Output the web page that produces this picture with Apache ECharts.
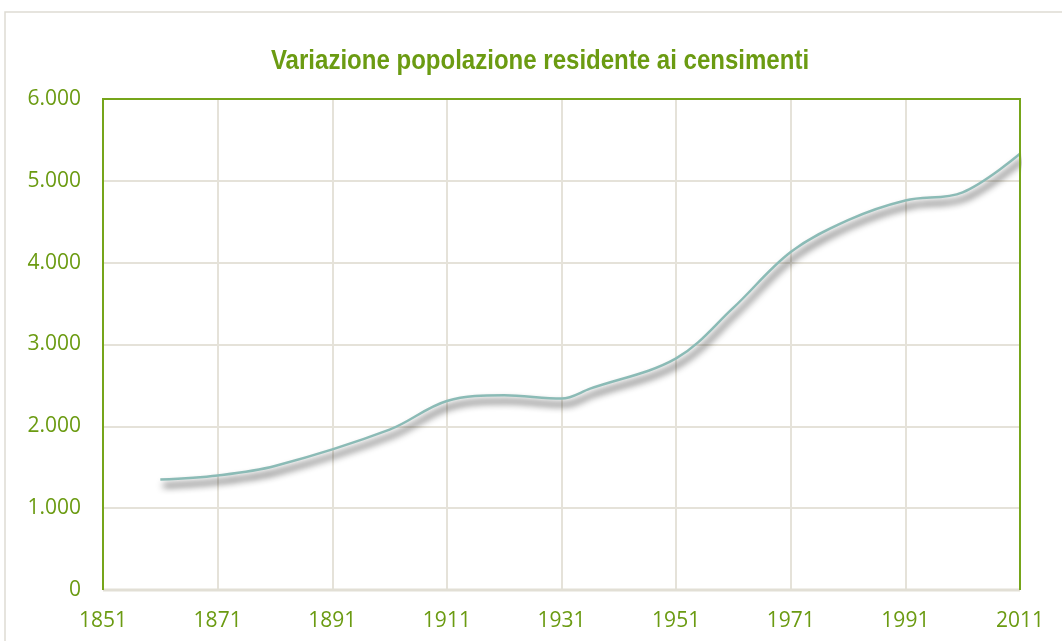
<!DOCTYPE html>
<html>
<head>
<meta charset="utf-8">
<script src="https://cdn.jsdelivr.net/npm/echarts@6/dist/echarts.min.js"></script>
<style>
html,body{margin:0;padding:0;background:#fff;}
#chart{width:1062px;height:641px;}
</style>
</head>
<body>
<div id="chart"></div>
<script>
const chartTitle = 'Variazione popolazione residente ai censimenti';
const years = [1861, 1871, 1881, 1901, 1911, 1921, 1931, 1936, 1951, 1961, 1971, 1981, 1991, 2001, 2011];
const population = [1350, 1400, 1515, 1960, 2310, 2380, 2340, 2460, 2830, 3450, 4130, 4520, 4760, 4860, 5330];
const xTicks = [1851, 1871, 1891, 1911, 1931, 1951, 1971, 1991, 2011];
const yTicks = [0, 1000, 2000, 3000, 4000, 5000, 6000];

const green = '#6b9b12';
const borderGreen = '#76a51a';
const gridColor = '#e5e2d9';

function fmtThousands(v) {
  return String(v).replace(/\B(?=(\d{3})+(?!\d))/g, '.');
}

const xMin = xTicks[0], xMax = xTicks[xTicks.length - 1];
const yMin = yTicks[0], yMax = yTicks[yTicks.length - 1];

const chart = echarts.init(document.getElementById('chart'), null, {renderer: 'canvas'});
chart.setOption({
  animation: false,
  backgroundColor: '#ffffff',
  graphic: [{
    id: 'outer',
    type: 'rect',
    shape: {x: 5, y: 12, width: 1200, height: 800},
    style: {fill: 'none', stroke: '#dedbd3', lineWidth: 1.5},
    z: -1
  }, {
    id: 'title',
    type: 'text',
    x: 540,
    y: 62,
    scaleX: 0.89,
    style: {
      text: chartTitle,
      x: 0, y: 0,
      align: 'center',
      verticalAlign: 'middle',
      fill: green,
      font: 'bold 27px "Liberation Sans", Arial, sans-serif'
    }
  }],
  grid: {
    left: 103, right: 42, top: 99, bottom: 51,
    show: false
  },
  xAxis: {
    type: 'value',
    min: xMin,
    max: xMax,
    interval: 20,
    axisLine: {show: false},
    axisTick: {show: false},
    splitLine: {show: true, lineStyle: {color: gridColor, width: 2}},
    axisLabel: {
      color: green, fontFamily: 'Open Sans', fontSize: 21, margin: 21,
      formatter: v => String(v)
    }
  },
  yAxis: {
    type: 'value',
    min: yMin,
    max: yMax,
    interval: 1000,
    axisLine: {show: false},
    axisTick: {show: false},
    splitLine: {show: true, lineStyle: {color: gridColor, width: 2}},
    axisLabel: {
      color: green, fontFamily: 'Open Sans', fontSize: 21, margin: 22,
      formatter: v => fmtThousands(v)
    }
  },
  series: [{
    type: 'line',
    data: years.map((y, i) => [y, population[i]]),
    smooth: 0.35,
    symbol: 'none',
    lineStyle: {
      color: '#8bbbb6',
      width: 2.5,
      shadowColor: 'rgba(0,0,0,0.9)',
      shadowBlur: 7,
      shadowOffsetX: 3,
      shadowOffsetY: 6
    },
    z: 3
  }]
});

// Plot-area frame from the axis scales: green left/top/right, beige bottom
const pLB = chart.convertToPixel({gridIndex: 0}, [xMin, yMin]);
const pLT = chart.convertToPixel({gridIndex: 0}, [xMin, yMax]);
const pRT = chart.convertToPixel({gridIndex: 0}, [xMax, yMax]);
const pRB = chart.convertToPixel({gridIndex: 0}, [xMax, yMin]);
chart.setOption({
  graphic: [{
    id: 'bottomLine',
    type: 'line',
    shape: {x1: pLB[0], y1: pLB[1], x2: pRB[0], y2: pRB[1]},
    style: {stroke: '#e2dfd5', lineWidth: 3},
    z: 9
  }, {
    id: 'frame',
    type: 'polyline',
    shape: {points: [pLB, pLT, pRT, pRB]},
    style: {fill: null, stroke: borderGreen, lineWidth: 2},
    z: 10
  }]
});
</script>
</body>
</html>
